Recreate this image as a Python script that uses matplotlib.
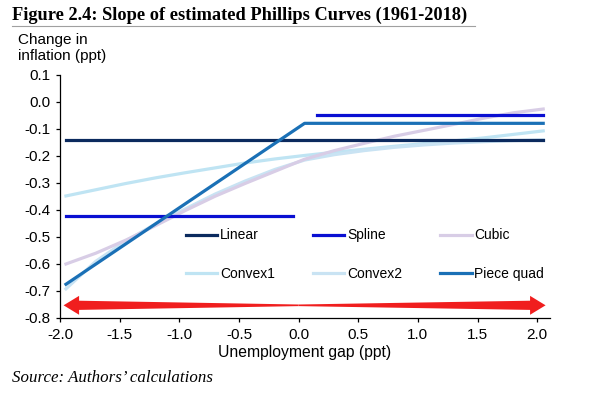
import numpy as np
import matplotlib.pyplot as plt
from matplotlib.lines import Line2D
from matplotlib.patches import Polygon

# ---- data ----
grid = [-1.95, -1.7, -1.45, -1.2, -0.95, -0.7, -0.45, -0.2, 0.05,
        0.3, 0.55, 0.8, 1.05, 1.3, 1.55, 1.8, 2.05]

linear_x = [-1.95, 2.05]
linear_y = [-0.141, -0.141]

spline_lo_x = [-1.95, -0.05]
spline_lo_y = [-0.421, -0.421]
spline_hi_x = [0.15, 2.05]
spline_hi_y = [-0.047, -0.047]

cubic_y = [-0.600, -0.560, -0.512, -0.458, -0.402, -0.349, -0.302, -0.257, -0.212,
           -0.180, -0.153, -0.127, -0.105, -0.083, -0.060, -0.040, -0.026]
convex1_y = [-0.348, -0.325, -0.302, -0.281, -0.262, -0.244, -0.226, -0.211, -0.198,
             -0.186, -0.175, -0.164, -0.154, -0.144, -0.133, -0.120, -0.107]
convex2_y = [-0.692, -0.590, -0.515, -0.452, -0.396, -0.341, -0.293, -0.250, -0.215,
             -0.195, -0.180, -0.168, -0.159, -0.152, -0.147, -0.143, -0.140]

piece_x = [-1.95, 0.05, 2.05]
piece_y = [-0.675, -0.079, -0.079]

colors = {
    "Linear": "#0b2a5e",
    "Spline": "#0a0fd2",
    "Cubic": "#d8cde6",
    "Convex1": "#bfe4f3",
    "Convex2": "#c9e3f3",
    "Piece quad": "#1a70b6",
}

xticks = [-2.0, -1.5, -1.0, -0.5, 0.0, 0.5, 1.0, 1.5, 2.0]
yticks = [0.1, 0.0, -0.1, -0.2, -0.3, -0.4, -0.5, -0.6, -0.7, -0.8]

plt.rcParams["font.family"] = ["Liberation Sans", "DejaVu Sans"]

fig = plt.figure(figsize=(5.97, 3.95), dpi=100)
ax = fig.add_axes([60 / 597, 1 - 318 / 395, 490 / 597, 243 / 395])

lw = 2.3
ax.plot(grid, convex1_y, color=colors["Convex1"], lw=lw, zorder=2)
ax.plot(grid, convex2_y, color=colors["Convex2"], lw=lw, zorder=2)
ax.plot(grid, cubic_y, color=colors["Cubic"], lw=lw, zorder=3)
ax.plot(linear_x, linear_y, color=colors["Linear"], lw=lw, zorder=4)
ax.plot(spline_lo_x, spline_lo_y, color=colors["Spline"], lw=lw, zorder=4)
ax.plot(spline_hi_x, spline_hi_y, color=colors["Spline"], lw=lw, zorder=4)
ax.plot(piece_x, piece_y, color=colors["Piece quad"], lw=lw, zorder=5)

# red double arrow (tapered to the middle)
ay, x_mid, x_l, x_r = -0.753, 0.0, -1.97, 2.07
head_len, head_hw, shaft_hw, mid_hw = 0.13, 0.035, 0.017, 0.003
for tip in (x_l, x_r):
    s = np.sign(tip - x_mid)
    base = tip - s * head_len
    verts = [(x_mid, ay + mid_hw), (base, ay + shaft_hw), (base, ay + head_hw),
             (tip, ay), (base, ay - head_hw), (base, ay - shaft_hw),
             (x_mid, ay - mid_hw)]
    ax.add_patch(Polygon(verts, closed=True, facecolor="#f01e1e",
                         edgecolor="none", zorder=6, clip_on=False))

ax.set_xlim(-2.0, 2.107)
ax.set_ylim(-0.8, 0.1)
ax.set_xticks(xticks)
ax.set_yticks(yticks)
ax.set_xticklabels([f"{v:.1f}" for v in xticks])
ax.set_yticklabels([f"{v:.1f}" for v in yticks])
ax.tick_params(direction="out", length=3, width=0.9, labelsize=11, pad=4)
for side in ("top", "right"):
    ax.spines[side].set_visible(False)
for side in ("left", "bottom"):
    ax.spines[side].set_linewidth(0.9)
ax.set_xlabel("Unemployment gap (ppt)", fontsize=11.3, labelpad=2)

order = ["Linear", "Convex1", "Spline", "Convex2", "Cubic", "Piece quad"]
handles = [Line2D([], [], color=colors[k], lw=lw) for k in order]
ax.legend(handles, order, ncol=3, frameon=False, fontsize=10,
          loc="center left", bbox_to_anchor=(0.257, 0.261),
          borderpad=0, borderaxespad=0, handlelength=2.25,
          handletextpad=0.2, columnspacing=2.75, labelspacing=1.75)

fig.text(12 / 597, 1 - 15 / 395, "Figure 2.4: Slope of estimated Phillips Curves (1961-2018)",
         fontsize=13.2, fontweight="bold", family="Liberation Serif", va="center")
fig.add_artist(Line2D([12 / 597, 475 / 597], [1 - 26 / 395, 1 - 26 / 395],
                      color="#a0a0a0", lw=0.8))
fig.text(18 / 597, 1 - 48 / 395, "Change in\ninflation (ppt)", fontsize=11,
         va="center", ha="left", linespacing=1.13)
fig.text(12 / 597, 1 - 378 / 395, "Source: Authors\u2019 calculations", fontsize=12.2,
         style="italic", family="Liberation Serif", va="center")

fig.savefig("out.png", dpi=100)
